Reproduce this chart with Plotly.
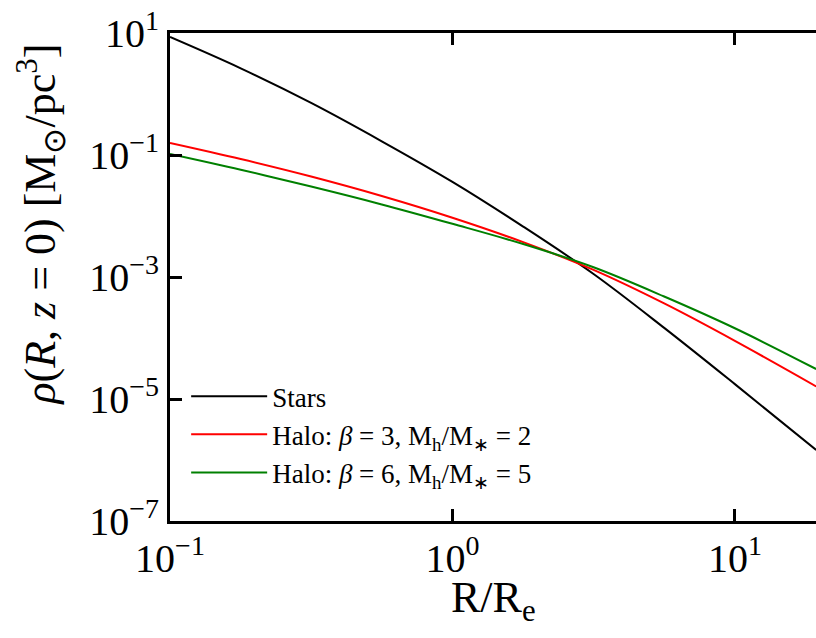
import plotly.graph_objects as go

# R / R_e sample points
R = [0.1, 0.178, 0.316, 0.562, 1.0, 1.78, 3.16, 5.62, 10.0, 19.4]

# density rho(R, z=0) in M_sun / pc^3
rho_stars = [8.59, 2.63, 0.714, 0.168, 0.0363, 6.71e-3, 1.12e-3, 1.466e-4, 1.754e-5, 1.459e-6]
rho_halo_b3 = [0.1574, 0.0859, 0.0444, 0.0213, 9.38e-3, 3.73e-3, 1.306e-3, 3.68e-4, 8.97e-5, 1.61e-5]
rho_halo_b6 = [0.1038, 0.0573, 0.0304, 0.01549, 7.45e-3, 3.47e-3, 1.445e-3, 4.79e-4, 1.445e-4, 3.10e-5]

names = ["Stars",
         "Halo: <i>β</i> = 3, M<sub>h</sub>/M<sub>∗</sub> = 2",
         "Halo: <i>β</i> = 6, M<sub>h</sub>/M<sub>∗</sub> = 5"]
colors = ["black", "#ff0000", "#008000"]

x_tickvals = [0.1, 1, 10]
x_ticktext = ["10<sup>−1</sup>", "10<sup>0</sup>", "10<sup>1</sup>"]
y_tickvals = [10, 0.1, 1e-3, 1e-5, 1e-7]
y_ticktext = ["10<sup>1</sup>", "10<sup>−1</sup>", "10<sup>−3</sup>", "10<sup>−5</sup>", "10<sup>−7</sup>"]

FONT = "Liberation Serif, Times New Roman, serif"

fig = go.Figure()
for ys, nm, c in zip([rho_stars, rho_halo_b3, rho_halo_b6], names, colors):
    fig.add_trace(go.Scatter(x=R, y=ys, mode="lines", name=nm,
                             line=dict(color=c, width=2, shape="spline")))

fig.update_layout(
    width=816, height=638,
    margin=dict(l=170, r=0, t=33, b=117),
    plot_bgcolor="white", paper_bgcolor="white",
    font=dict(family=FONT, color="black", size=40),
    showlegend=True,
    legend=dict(x=0.025, y=0.305, xanchor="left", yanchor="top",
                bgcolor="rgba(0,0,0,0)", borderwidth=0,
                font=dict(family=FONT, size=27, color="black"),
                itemwidth=76, tracegroupgap=0),
    xaxis=dict(type="log", range=[-1, 1.2872],
               tickvals=x_tickvals, ticktext=x_ticktext,
               ticks="inside", ticklen=12, tickwidth=3, tickcolor="black",
               showline=True, linewidth=3, linecolor="black", mirror="ticks",
               showgrid=False, zeroline=False,
               tickfont=dict(family=FONT, size=40)),
    yaxis=dict(type="log", range=[-7, 1],
               tickvals=y_tickvals, ticktext=y_ticktext,
               ticks="inside", ticklen=12, tickwidth=3, tickcolor="black",
               showline=True, linewidth=3, linecolor="black", mirror=False,
               showgrid=False, zeroline=False,
               tickfont=dict(family=FONT, size=40)),
    yaxis2=dict(type="log", range=[-7, 1], overlaying="y", side="right", anchor="x",
                tickvals=y_tickvals, showticklabels=False,
                ticks="inside", ticklen=12, tickwidth=3, tickcolor="black",
                showline=False, showgrid=False, zeroline=False),
)

fig.add_annotation(
    text="R/R<sub>e</sub>",
    xref="paper", yref="paper", x=0.5, y=-0.163,
    xanchor="center", yanchor="middle", showarrow=False,
    font=dict(family=FONT, size=44, color="black"))

fig.add_annotation(
    text="<i>ρ</i>(<i>R</i>, <i>z</i> = 0) [M<sub>⊙</sub>/pc<sup>3</sup>]",
    xref="paper", yref="paper", x=-0.2, y=0.607,
    xanchor="center", yanchor="middle", textangle=-90, showarrow=False,
    font=dict(family=FONT, size=44, color="black"))

fig.write_html("out.html")
